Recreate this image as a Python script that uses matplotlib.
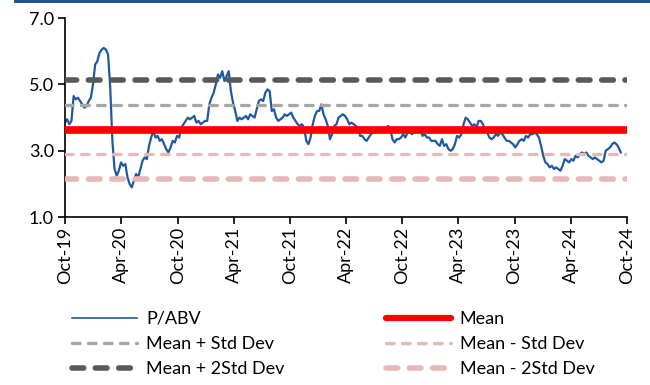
import pandas as pd
import matplotlib.pyplot as plt
import matplotlib.dates as mdates
import matplotlib.ticker as mticker
from matplotlib.lines import Line2D
from matplotlib.patches import Rectangle

plt.rcParams['font.family'] = ['Lato', 'DejaVu Sans']

# weekly P/ABV, Oct-2019 onwards (one row per half-year)
pabv = [
    3.85, 3.95, 3.80, 3.90, 4.65, 4.55, 4.60, 4.50, 4.40, 4.30, 4.35, 4.50, 4.60,
    5.00, 5.60, 5.70, 5.95, 6.05, 6.10, 6.05, 5.90, 4.90, 3.30, 2.45, 2.25, 2.40,
    2.65, 2.55, 2.60, 2.20, 2.00, 1.90, 2.10, 2.30, 2.20, 2.45, 2.70, 2.80, 2.75,
    3.15, 3.40, 3.60, 3.40, 3.45, 3.30, 3.35, 3.20, 3.05, 2.95, 3.10, 3.30, 3.25,
    3.45, 3.40, 3.70, 3.80, 3.90, 4.00, 3.95, 4.00, 4.05, 3.85, 3.90, 3.80, 3.85,
    3.90, 3.90, 4.40, 4.60, 4.75, 5.00, 5.30, 5.20, 5.40, 5.10, 5.25, 5.40, 4.80,
    4.45, 4.20, 3.90, 4.00, 3.95, 4.00, 4.05, 3.95, 4.10, 4.05, 4.00, 4.25, 4.50,
    4.55, 4.50, 4.75, 4.85, 4.80, 4.20, 4.25, 4.00, 3.90, 3.95, 4.00, 4.10, 4.05,
    4.10, 4.15, 4.00, 3.90, 3.80, 3.75, 3.80, 3.70, 3.30, 3.20, 3.40, 3.80, 4.05,
    4.20, 4.20, 4.40, 4.10, 3.95, 3.75, 3.35, 3.50, 3.75, 3.80, 4.00, 4.05, 4.10,
    4.05, 3.95, 3.80, 3.85, 3.80, 3.75, 3.70, 3.45, 3.45, 3.35, 3.30, 3.40, 3.50,
    3.55, 3.55, 3.60, 3.65, 3.60, 3.60, 3.65, 3.75, 3.65, 3.35, 3.25, 3.35, 3.35,
    3.40, 3.50, 3.40, 3.55, 3.60, 3.50, 3.55, 3.70, 3.65, 3.60, 3.45, 3.50, 3.40,
    3.40, 3.30, 3.30, 3.30, 3.20, 3.15, 3.35, 3.15, 3.20, 3.05, 3.00, 3.05, 3.20,
    3.45, 3.40, 3.50, 3.80, 4.00, 3.95, 3.85, 3.75, 3.80, 3.70, 3.90, 3.90, 3.80,
    3.65, 3.55, 3.40, 3.35, 3.40, 3.50, 3.45, 3.55, 3.50, 3.40, 3.30, 3.30, 3.25,
    3.20, 3.10, 3.20, 3.30, 3.35, 3.30, 3.45, 3.40, 3.50, 3.50, 3.55, 3.50, 3.40,
    3.15, 2.85, 2.65, 2.60, 2.50, 2.55, 2.45, 2.50, 2.45, 2.40, 2.55, 2.75, 2.70,
    2.65, 2.75, 2.70, 2.85, 2.80, 2.90, 2.95, 2.90, 2.95, 2.85, 2.80, 2.75, 2.80,
    2.75, 2.70, 2.65, 2.70, 3.00, 3.05, 3.10, 3.20, 3.25, 3.20, 3.10, 2.95,
]
dates = pd.date_range('2019-10-01', periods=len(pabv), freq='7D')

mean_val = 3.64
std_val = 0.74

fig = plt.figure(figsize=(6.5, 3.85), dpi=100)
ax = fig.add_axes([0.1, 0.436, 0.865, 0.517])

# blue band across the top
fig.add_artist(Rectangle((0.022, 0.992), 0.978, 0.008, transform=fig.transFigure,
                         color='#1f5597', lw=0))

ax.plot(dates, pabv, color='#1f5aa0', lw=1.6, zorder=2)

lw_thin = 2.4
lw_thick = 4.0
ax.axhline(mean_val, color='#ff0000', lw=5.5, solid_capstyle='round', zorder=4)
ax.axhline(mean_val + std_val, color='#a6a6a6', lw=lw_thin, dashes=(2.3, 2.5),
           dash_capstyle='round', zorder=3)
ax.axhline(mean_val - std_val, color='#e6b9b8', lw=lw_thin, dashes=(2.3, 2.5),
           dash_capstyle='round', zorder=3)
ax.axhline(mean_val + 2 * std_val, color='#595959', lw=lw_thick, dashes=(2.1, 2.1),
           dash_capstyle='round', zorder=3)
ax.axhline(mean_val - 2 * std_val, color='#e6b9b8', lw=lw_thick, dashes=(2.1, 2.1),
           dash_capstyle='round', zorder=3)

ax.set_xlim(pd.Timestamp('2019-10-01'), pd.Timestamp('2024-10-01'))
ax.set_ylim(1, 7)
ax.set_yticks([1, 3, 5, 7])
ax.yaxis.set_major_formatter(mticker.FormatStrFormatter('%.1f'))
ax.xaxis.set_major_locator(mdates.MonthLocator(bymonth=(4, 10)))
ax.xaxis.set_major_formatter(mdates.DateFormatter('%b-%y'))
for lbl in ax.get_xticklabels():
    lbl.set_rotation(90)

for s in ['top', 'right']:
    ax.spines[s].set_visible(False)
for s in ['left', 'bottom']:
    ax.spines[s].set_linewidth(1.2)
ax.tick_params(axis='both', labelsize=13, length=5, width=1.2, colors='black')
ax.tick_params(axis='x', pad=2)
ax.tick_params(axis='y', pad=3)

handles = [
    Line2D([], [], color='#1f5aa0', lw=1.2),
    Line2D([], [], color='#a6a6a6', lw=lw_thin, dashes=(2.3, 2.5), dash_capstyle='round'),
    Line2D([], [], color='#595959', lw=lw_thick, dashes=(2.1, 2.1), dash_capstyle='round'),
    Line2D([], [], color='#ff0000', lw=4.5, solid_capstyle='round'),
    Line2D([], [], color='#e6b9b8', lw=lw_thin, dashes=(2.3, 2.5), dash_capstyle='round'),
    Line2D([], [], color='#e6b9b8', lw=lw_thick, dashes=(2.1, 2.1), dash_capstyle='round'),
]
labels = ['P/ABV', 'Mean + Std Dev', 'Mean + 2Std Dev',
          'Mean', 'Mean - Std Dev', 'Mean - 2Std Dev']
fig.legend(handles, labels, ncol=2, loc='upper left', frameon=False,
           bbox_to_anchor=(72 / 650, 1 - 311 / 385), fontsize=13,
           handlelength=3.6, handletextpad=0.5, columnspacing=5.6,
           labelspacing=0.5, borderpad=0, borderaxespad=0)

plt.savefig('out.png', dpi=100)
